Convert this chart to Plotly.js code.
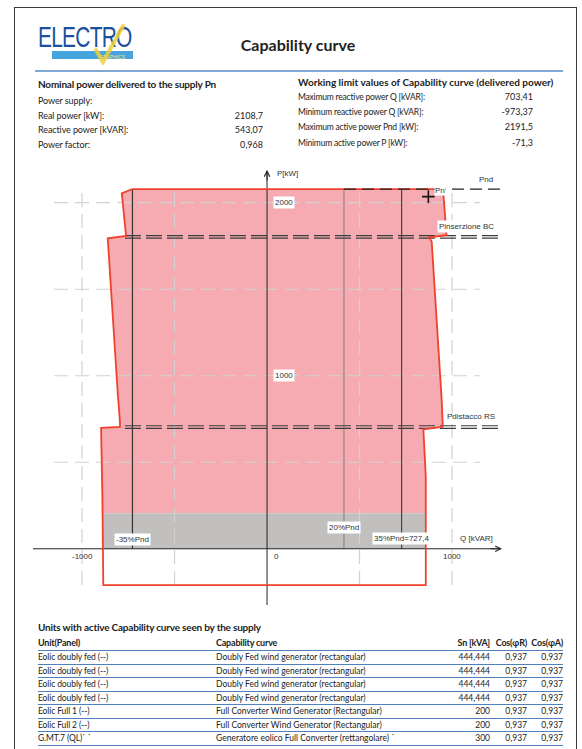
<!DOCTYPE html>
<html>
<head>
<meta charset="utf-8">
<script src="https://cdn.plot.ly/plotly-3.0.1.min.js"></script>
<style>
  html, body { margin:0; padding:0; background:#fff; }
  #page { position:relative; width:582px; height:749px; overflow:hidden; background:#fff; font-family: Lato, "Open Sans", sans-serif; color:#222; }
  #chart { position:absolute; left:0; top:0; width:582px; height:749px; }
  .t { position:absolute; white-space:nowrap; line-height:12px; }
</style>
</head>
<body>
<div id="page">
  <div id="chart"></div>
</div>
<script>
// ---------------- DATA ----------------
// Capability region outline (Q in kVAR, P in kW)
const capQ = [-731, 908, 953, 970, 876, 890, 944, 950, 845, 849, 858, 858, -885, -890, -897, -897, -795, -795, -807, -861, -762, -785, -731];
const capP = [2078, 2078, 2054, 1812, 1800, 1775, 860, 705, 690, 571, 416, -210, -210, 301, 628, 699, 705, 734, 900, 1794, 1808, 2054, 2078];
// Pink operating area (above the grey band)
const pinkQ = [-731, 908, 953, 970, 876, 890, 944, 950, 845, 849, 858, 858, -889, -890, -897, -897, -795, -795, -807, -861, -762, -785, -731];
const pinkP = [2078, 2078, 2054, 1812, 1800, 1775, 860, 705, 690, 571, 416, 205, 205, 301, 628, 699, 705, 734, 900, 1794, 1808, 2054, 2078];
// Grey band
const grayQ = [-887, 858, 858, -889, -887];
const grayP = [0, 0, 205, 205, 0];
// Grid values
const gridQ = [-1000, -500, 500, 1000];
const gridP = [500, 1000, 1500, 2000];
const gridQspan = [-1151, 1151];
const gridPspan = [-210, 2085];
// Characteristic levels
const Pnd = 2078.3;
const qLines = [-727.4, 415.7, 727.4];           // -35%Pnd, 20%Pnd, 35%Pnd
const qLineColors = ['#333333', '#8a8a8a', '#444444'];
const qLineLabels = ['-35%Pnd', '20%Pnd', '35%Pnd=727,4'];
const qLabelQ = [-825, 415.7, 727.4];
const qLabelP = [55, 122, 62];
const pnLineQ = [415.7, 1265];
const bcP = [1810, 1795];      // Pinserzione BC double line
const rsP = [711, 696];        // Pdistacco RS double line
const dblQ = [-768, 1270];
const pnPointQ = [872];
const pnPointP = [2035];
// Axis ticks
const tickP = [2000, 1000];
const tickQ = [-1000, 0, 1000];
const tickQlabels = ['-1000', '0', '1000'];

// Header tables
const leftTitle = 'Nominal power delivered to the supply Pn';
const leftLabels = ['Power supply:', 'Real power [kW]:', 'Reactive power [kVAR]:', 'Power factor:'];
const leftValues = ['', '2108,7', '543,07', '0,968'];
const rightTitle = 'Working limit values of Capability curve (delivered power)';
const rightLabels = ['Maximum reactive power Q [kVAR]:', 'Minimum reactive power Q [kVAR]:', 'Maximum active power Pnd [kW]:', 'Minimum active power P [kW]:'];
const rightValues = ['703,41', '-973,37', '2191,5', '-71,3'];

// Units table
const unitsTitle = 'Units with active Capability curve seen by the supply';
const unitHeaders = ['Unit(Panel)', 'Capability curve', 'Sn [kVA]', 'Cos(\u03C6R)', 'Cos(\u03C6A)'];
const unitNames = ['Eolic doubly fed (--)', 'Eolic doubly fed (--)', 'Eolic doubly fed (--)', 'Eolic doubly fed (--)', 'Eolic Full 1 (--)', 'Eolic Full 2 (--)', 'G.MT.7 (QL)\u02D9 \u02D9'];
const unitCurves = ['Doubly Fed wind generator (rectangular)', 'Doubly Fed wind generator (rectangular)', 'Doubly Fed wind generator (rectangular)', 'Doubly Fed wind generator (rectangular)', 'Full Converter Wind Generator (Rectangular)', 'Full Converter Wind Generator (Rectangular)', 'Generatore eolico Full Converter (rettangolare) \u02D9'];
const unitSn = ['444,444', '444,444', '444,444', '444,444', '200', '200', '300'];
const unitCosR = ['0,937', '0,937', '0,937', '0,937', '0,937', '0,937', '0,937'];
const unitCosA = ['0,937', '0,937', '0,937', '0,937', '0,937', '0,937', '0,937'];

// ---------------- HTML TEXT ----------------
const page = document.getElementById('page');
function txt(s, x, y, o) {
  o = o || {};
  const d = document.createElement('div');
  d.className = 't';
  d.textContent = s;
  d.style.top = (y - 6) + 'px';
  if (o.right) d.style.right = (582 - x) + 'px'; else d.style.left = x + 'px';
  d.style.fontSize = (o.size || 8) + 'px';
  if (o.bold) d.style.fontWeight = 'bold';
  if (o.color) d.style.color = o.color;
  if (o.ls !== undefined) d.style.letterSpacing = o.ls + 'px';
  page.appendChild(d);
  return d;
}
function box(x, y, w, h, style) {
  const d = document.createElement('div');
  d.style.position = 'absolute';
  d.style.left = x + 'px'; d.style.top = y + 'px';
  d.style.width = w + 'px'; d.style.height = h + 'px';
  Object.assign(d.style, style || {});
  page.appendChild(d);
  return d;
}
// page border
box(14, 7, 563, 800, {border: '1px solid #3a3a3a', boxSizing: 'border-box'});
// logo
box(52, 51, 81, 8, {background: '#46a5dc'});
const logoTxt = txt('ELECTRO', 38, 0, {size: 29});
logoTxt.style.top = '26px';
logoTxt.style.lineHeight = '23px';
logoTxt.style.fontFamily = "'Liberation Sans', Arial, sans-serif";
logoTxt.style.color = '#1d4f9e';
logoTxt.style.letterSpacing = '-1px';
logoTxt.style.transform = 'scaleX(0.72)';
logoTxt.style.transformOrigin = 'left top';
const g = txt('GRAPHICS', 99, 0, {size: 5});
g.style.top = '54px'; g.style.lineHeight = '6px';
g.style.fontFamily = "'Liberation Sans', Arial, sans-serif";
g.style.color = '#f3e27a';
const chk = box(90, 20, 45, 45, {});
chk.innerHTML = '<svg width="45" height="45"><path d="M6,30 L13,42 L33,6" stroke="#efd038" stroke-width="4" fill="none" stroke-linecap="round" opacity="0.85"/></svg>';
// title
txt('Capability curve', 298, 45, {size: 16, bold: true}).style.transform = 'translateX(-50%)';
// separator
box(35, 70, 528, 1.5, {background: '#7fa8d3'});

// header left
txt(leftTitle, 38, 84, {size: 10, bold: true, ls: -0.2});
leftLabels.forEach((s, i) => {
  const y = 101 + i * 14.7;
  txt(s, 38, y, {size: 9, ls: -0.1});
  if (leftValues[i]) txt(leftValues[i], 263, y, {size: 9, right: true});
});
// header right
txt(rightTitle, 298, 82, {size: 10, bold: true, ls: 0});
rightLabels.forEach((s, i) => {
  const y = 97 + i * 15.2;
  txt(s, 298, y, {size: 8.5, ls: -0.2});
  txt(rightValues[i], 533, y, {size: 9, right: true});
});

// units table
txt(unitsTitle, 38, 627, {size: 10, bold: true, ls: -0.2});
const colX = [38, 216, 490, 527, 563];
const hdrY = 643;
unitHeaders.forEach((s, j) => txt(s, colX[j], hdrY, {size: 9, bold: true, right: j >= 2, ls: -0.2}));
box(38, hdrY + 7, 525, 1, {background: '#4f81bd'});
unitNames.forEach((s, i) => {
  const y = 657 + i * 13.5;
  txt(s, colX[0], y, {size: 8.5, ls: -0.1});
  txt(unitCurves[i], colX[1], y, {size: 8.5, ls: 0});
  txt(unitSn[i], colX[2], y, {size: 8.5, right: true});
  txt(unitCosR[i], colX[3], y, {size: 8.5, right: true});
  txt(unitCosA[i], colX[4], y, {size: 8.5, right: true});
  box(38, y + 6.5, 525, 1, {background: '#4f81bd'});
});

// ---------------- PLOTLY CHART ----------------
const traces = [];
// pink area
traces.push({x: pinkQ, y: pinkP, mode: 'lines', fill: 'toself', fillcolor: '#f5abb1', line: {width: 0}});
// grey band
traces.push({x: grayQ, y: grayP, mode: 'lines', fill: 'toself', fillcolor: '#c1c0bf', line: {width: 0}});
// grid lines
gridP.forEach(p => traces.push({x: gridQspan, y: [p, p], mode: 'lines', line: {color: '#d2d2d2', width: 1.2, dash: '14px,7px'}}));
gridQ.forEach(q => traces.push({x: [q, q], y: gridPspan, mode: 'lines', line: {color: '#d2d2d2', width: 1.2, dash: '14px,7px'}}));
// vertical characteristic lines
qLines.forEach((q, i) => traces.push({x: [q, q], y: [0, Pnd], mode: 'lines', line: {color: qLineColors[i], width: 1.2}}));
// double dashed lines
bcP.concat(rsP).forEach(p => traces.push({x: dblQ, y: [p, p], mode: 'lines', line: {color: '#3c3c3c', width: 1.2, dash: '16px,5px'}}));
// axes
traces.push({x: [-1265, 1262], y: [0, 0], mode: 'lines', line: {color: '#222', width: 1}});
traces.push({x: [0, 0], y: [-325, 2180], mode: 'lines', line: {color: '#222', width: 1}});
// red outline
traces.push({x: capQ, y: capP, mode: 'lines', line: {color: '#f0412c', width: 1.8}});
// Pnd line
traces.push({x: pnLineQ, y: [Pnd, Pnd], mode: 'lines', line: {color: '#222', width: 1.2, dash: '12px,6px'}});
// Pn point
traces.push({x: pnPointQ, y: pnPointP, mode: 'markers', marker: {symbol: 'cross-thin', size: 9, line: {color: '#111', width: 1.6}}});
traces.forEach(t => { t.type = 'scatter'; t.showlegend = false; t.hoverinfo = 'skip'; });

const lf = {family: 'Liberation Sans, Arial, sans-serif', size: 8, color: '#333'};
const annotations = [];
tickP.forEach(p => annotations.push({x: 92, y: p, text: String(p), showarrow: false, font: lf, bgcolor: '#fff', borderpad: 1}));
tickQ.forEach((q, i) => annotations.push({x: q + (q === 0 ? 52 : 0), y: -46, text: tickQlabels[i], showarrow: false, font: lf}));
qLineLabels.forEach((s, i) => annotations.push({x: qLabelQ[i], y: qLabelP[i], text: s, showarrow: false, font: lf, bgcolor: '#fff', borderpad: 1, xanchor: i === 0 ? 'left' : 'center'}));
annotations.push({x: 1132, y: 59, text: 'Q [kVAR]', showarrow: false, font: lf});
annotations.push({x: 43, y: 2169, text: 'P[kW]', showarrow: false, font: lf, xanchor: 'left'});
annotations.push({x: 1184, y: 2134, text: 'Pnd', showarrow: false, font: lf});
annotations.push({x: 936, y: 2070, text: 'Pn', showarrow: false, font: lf, bgcolor: '#fff', borderpad: 0});
annotations.push({x: 1078, y: 1865, text: 'Pinserzione BC', showarrow: false, font: lf, bgcolor: '#fff', borderpad: 1});
annotations.push({x: 1100, y: 767, text: 'Pdistacco RS', showarrow: false, font: lf});
// axis arrowheads
annotations.push({x: 1270, y: 0, ax: 1200, ay: 0, axref: 'x', ayref: 'y', xref: 'x', yref: 'y', showarrow: true, arrowhead: 5, arrowsize: 1.1, arrowwidth: 1, arrowcolor: '#222', text: ''});
annotations.push({x: 0, y: 2190, ax: 0, ay: 2120, axref: 'x', ayref: 'y', xref: 'x', yref: 'y', showarrow: true, arrowhead: 5, arrowsize: 1.1, arrowwidth: 1, arrowcolor: '#222', text: ''});

const layout = {
  width: 582, height: 749,
  margin: {l: 33, r: 80, t: 165, b: 144, pad: 0},
  paper_bgcolor: 'rgba(0,0,0,0)', plot_bgcolor: 'rgba(0,0,0,0)',
  xaxis: {range: [-1265, 1270], visible: false, fixedrange: true},
  yaxis: {range: [-325, 2218], visible: false, fixedrange: true},
  annotations: annotations,
  showlegend: false
};
Plotly.newPlot('chart', traces, layout, {staticPlot: true, displayModeBar: false});
</script>
</body>
</html>
